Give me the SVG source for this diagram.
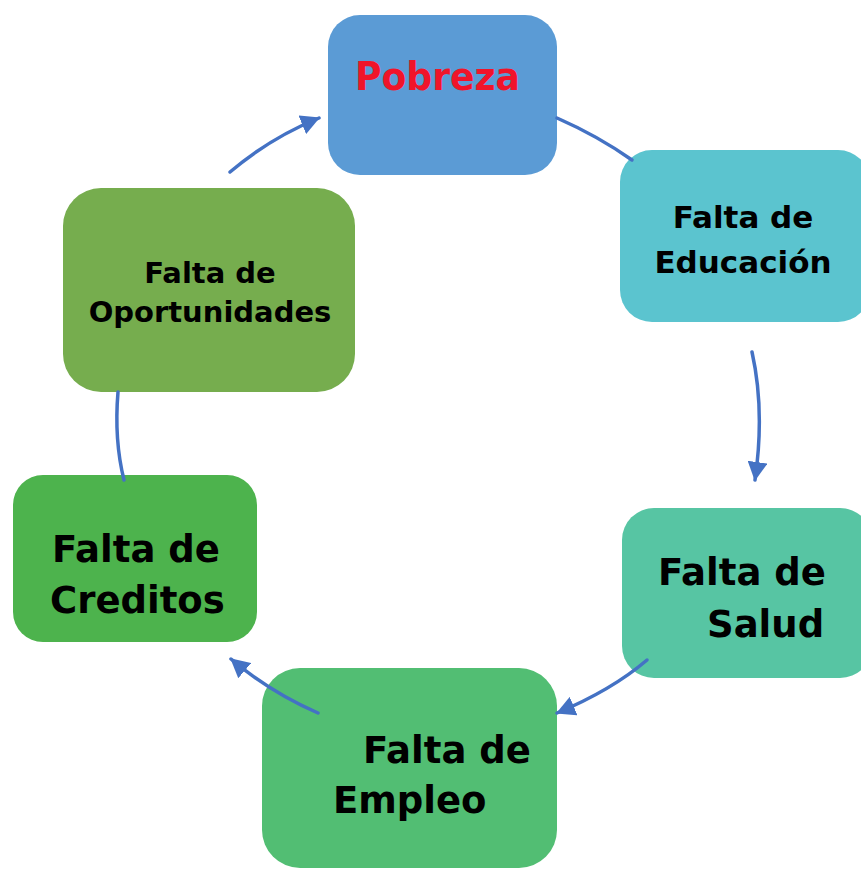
<svg xmlns="http://www.w3.org/2000/svg" width="861" height="869" viewBox="0 0 861 869">
<defs>
<style>
.t{font-family:"DejaVu Sans",Verdana,sans-serif;font-weight:bold;fill:#000}
.c{fill:none;stroke:#4472C4;stroke-width:3.5;stroke-linecap:round}
</style>
<marker id="ah" markerUnits="userSpaceOnUse" markerWidth="20" markerHeight="20" refX="18" refY="10" orient="auto">
<path d="M0,0 L19,10 L0,20 z" fill="#4472C4"/>
</marker>
</defs>
<rect width="861" height="869" fill="#fff"/>
<g id="pobreza">
<rect x="328" y="15" width="229" height="160" rx="32" fill="#5B9BD5"/>
<text x="355" y="90" font-family="DejaVu Sans,Verdana,sans-serif" font-weight="bold" font-size="39" fill="#F0142A" textLength="165" lengthAdjust="spacingAndGlyphs">Pobreza</text>
</g>
<g id="educacion">
<rect x="620" y="150" width="250" height="172" rx="32" fill="#5BC4CF"/>
<text class="t" font-size="31" text-anchor="middle"><tspan x="743" y="228">Falta de</tspan><tspan x="743" y="273">Educación</tspan></text>
</g>
<g id="salud">
<rect x="622" y="508" width="250" height="170" rx="32" fill="#57C5A3"/>
<text class="t" font-size="37"><tspan x="658" y="585">Falta de</tspan><tspan x="707" y="637">Salud</tspan></text>
</g>
<g id="empleo">
<rect x="262" y="668" width="295" height="200" rx="38" fill="#52BE73"/>
<text class="t" font-size="37"><tspan x="363" y="763">Falta de</tspan><tspan x="333" y="813">Empleo</tspan></text>
</g>
<g id="creditos">
<rect x="13" y="475" width="244" height="167" rx="30" fill="#4DB34D"/>
<text class="t" font-size="37"><tspan x="52" y="562">Falta de</tspan><tspan x="50" y="613">Creditos</tspan></text>
</g>
<g id="oportunidades">
<rect x="63" y="188" width="292" height="204" rx="38" fill="#76AD4E"/>
<text class="t" font-size="29" text-anchor="middle"><tspan x="210" y="283">Falta de</tspan><tspan x="210" y="322">Oportunidades</tspan></text>
</g>
<g id="connectors">
<path class="c" d="M557,118 Q598,136 632,160"/>
<path class="c" d="M752,352 Q765,410 755,480" marker-end="url(#ah)"/>
<path class="c" d="M647,660 Q612,690 557,713" marker-end="url(#ah)"/>
<path class="c" d="M318,713 Q270,692 231,659" marker-end="url(#ah)"/>
<path class="c" d="M118,392 Q114,440 124,480"/>
<path class="c" d="M230,172 Q270,138 319,118" marker-end="url(#ah)"/>
</g>
</svg>
